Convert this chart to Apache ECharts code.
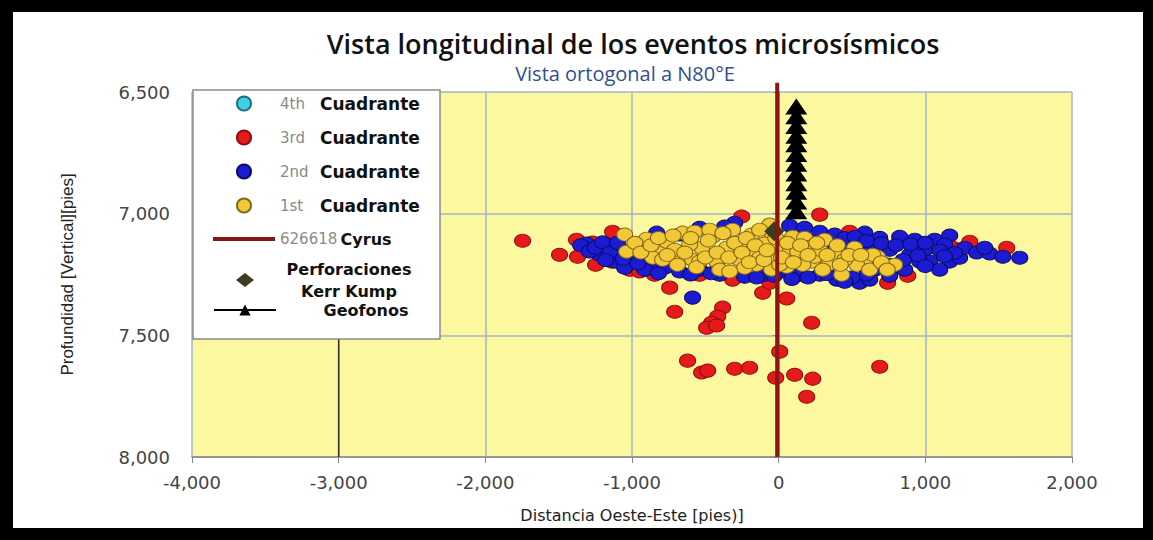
<!DOCTYPE html>
<html><head><meta charset="utf-8">
<script src="https://cdn.jsdelivr.net/npm/echarts@6/dist/echarts.min.js"></script>
<style>
html,body{margin:0;padding:0;background:#000;width:1153px;height:540px;overflow:hidden}
#c{position:absolute;left:13px;top:12px;width:1130px;height:516px;background:#fff}
</style></head>
<body><div id="c"></div>
<script>
// ---- data (x: Distancia Oeste-Este [pies], y: Profundidad [pies]) ----
const xTicks = [-4000, -3000, -2000, -1000, 0, 1000, 2000];
const yTicks = [6500, 7000, 7500, 8000];

const quad4 = []; // 4th Cuadrante: no events visible

const quad3 = [
  [-1746,7111],[-1494,7169],[-1371,7177],[-1378,7107],[-1269,7119],[-1132,7074],[-1248,7210],
  [-1139,7197],[-1016,7230],[-948,7238],[-846,7251],[-743,7304],[-709,7403],[-382,7386],
  [-416,7423],[-457,7448],[-491,7469],[-423,7460],[-539,7251],[-314,7271],[-109,7325],
  [-61,7284],[55,7349],[225,7448],[-621,7604],[-525,7653],[-484,7645],[-300,7637],
  [-198,7633],[7,7567],[-20,7674],[109,7662],[232,7678],[191,7752],[689,7629],
  [-252,7012],[280,7004],[484,7074],[743,7284],[880,7255],[1187,7140],[1303,7115],
  [1555,7140],[1234,7148]
];

const quad2 = [
  [-1309,7123],[-1173,7127],[-1221,7169],[-1084,7148],[-1118,7197],[-982,7181],[-948,7127],
  [-880,7210],[-832,7078],[-777,7222],[-675,7086],[-539,7058],[-300,7037],[-368,7053],
  [-587,7345],[-675,7238],[-539,7230],[-402,7251],[-232,7259],[-95,7251],[-1050,7222],
  [-914,7230],[75,7049],[177,7058],[280,7074],[382,7086],[587,7078],[689,7099],[825,7095],
  [928,7107],[1064,7107],[1166,7090],[1132,7127],[996,7148],[893,7169],[1030,7197],
  [1166,7197],[1098,7230],[1234,7181],[757,7148],[621,7127],[484,7127],[348,7140],
  [757,7210],[655,7230],[552,7284],[396,7271],[280,7251],[143,7251],[41,7238],[859,7230],
  [962,7197],[1269,7140],[1350,7160],[1439,7164],[1528,7177],[1644,7181],[1405,7140],
  [621,7271],[757,7255],
  [-1350,7130],[-1290,7155],[-1250,7140],[-1200,7118],[-1150,7160],[-1100,7120],[-1010,7150],
  [-1060,7185],[-960,7205],[-1180,7190],[450,7100],[520,7095],[600,7112],[700,7122],
  [800,7130],[900,7126],[1000,7120],[1100,7152],[1200,7162],[950,7172],[850,7190],
  [700,7200],[600,7250],[500,7262],[450,7280],[-820,7245],[-600,7250],[-460,7245],
  [-150,7262],[-30,7255],[90,7268],[200,7262],[330,7248],[1000,7215],[1130,7175]
];

const quad1 = [
  [-1050,7086],[-1037,7156],[-900,7103],[-812,7156],[-859,7181],[-655,7078],[-525,7140],
  [-450,7095],[-355,7140],[-266,7189],[-177,7148],[-150,7210],[123,7160],[191,7119],
  [232,7197],[-764,7115],[-675,7181],[-587,7189],[-791,7189],[-423,7197],[-314,7066],
  [-41,7095],[-539,7197],[-402,7230],[-266,7123],[-95,7123],[-130,7181],[-607,7127],
  [-709,7148],[-48,7230],[-232,7222],[-61,7045],[-184,7086],[-573,7074],[-334,7238],
  [95,7095],[177,7099],[41,7156],[130,7156],[211,7136],[246,7177],[55,7218],[164,7210],
  [348,7206],[430,7251],[518,7140],[587,7201],[675,7177],[532,7210],[791,7210],[641,7169],
  [280,7148],[382,7169],[450,7189],[314,7107],[-27,7148],[7,7210],[-470,7066],[-130,7066],
  [-980,7120],[-940,7160],[-870,7130],[-820,7100],[-760,7170],[-720,7090],[-690,7210],
  [-640,7160],[-600,7100],[-560,7220],[-500,7180],[-480,7110],[-420,7160],[-380,7080],
  [-340,7180],[-300,7120],[-250,7160],[-220,7100],[-200,7200],[-160,7130],[-100,7190],
  [-80,7150],[-20,7100],[20,7180],[60,7120],[100,7200],[150,7130],[200,7170],[260,7120],
  [300,7230],[330,7170],[400,7130],[420,7210],[480,7170],[560,7170],[620,7230],[700,7200],
  [740,7230]
];

const cyrusWell = [[-10,6462],[-10,8000]];
const kerrKump = [[-30,7072]];
const geofonos = [
  [120,6560],[120,6600],[120,6640],[120,6680],[120,6715],[120,6755],
  [120,6795],[120,6835],[120,6875],[120,6910],[120,6950],[120,6990]
];
const darkGridSegment = [[-3000,7500],[-3000,8000]];

const fmt = v => Number(v).toLocaleString('en-US');

const chart = echarts.init(document.getElementById('c'), null, {renderer:'svg'});
const legendRich = {
  g:{color:'#8a8a8a',fontFamily:'DejaVu Sans',fontSize:15,width:40,lineHeight:18},
  h:{color:'#8a8a8a',fontFamily:'DejaVu Sans',fontSize:15,lineHeight:18},
  b:{color:'#111',fontFamily:'DejaVu Sans',fontWeight:'bold',fontSize:17,lineHeight:18,width:116},
  k:{color:'#111',fontFamily:'DejaVu Sans',fontWeight:'bold',fontSize:16,lineHeight:18},
  c:{color:'#111',fontFamily:'DejaVu Sans',fontWeight:'bold',fontSize:16,width:136,align:'center',lineHeight:22},
  d:{color:'#111',fontFamily:'DejaVu Sans',fontWeight:'bold',fontSize:16,width:170,align:'center',lineHeight:18}
};
const scatterBase = {type:'scatter', symbol:'circle', symbolSize:[16,13]};

chart.setOption({
  animation:false,
  backgroundColor:'#fff',
  title:[
    {text:'Vista longitudinal de los eventos microsísmicos', left:615, top:13, textAlign:'center',
     textStyle:{fontFamily:'Open Sans',fontWeight:600,fontSize:27,color:'#111'}},
    {text:'Vista ortogonal a N80°E', left:607, top:46, textAlign:'center',
     textStyle:{fontFamily:'Open Sans',fontWeight:'normal',fontSize:20,color:'#2f4f8f'}}
  ],
  grid:{left:179, right:71, top:80, bottom:71, show:true, backgroundColor:'#fbf8a0', borderWidth:0},
  legend:[
    {data:['4th Cuadrante','3rd Cuadrante','2nd Cuadrante','1st Cuadrante',
           {name:'626618 Cyrus', icon:'path://M0,0H62V4H0Z'}],
     orient:'vertical', left:180, top:78, itemWidth:62, itemHeight:14, itemGap:17,
     padding:[5,4,92,20], backgroundColor:'#fff', borderColor:'#8a8a8a', borderWidth:1.5,
     selectedMode:false,
     formatter:function(n){const i=n.indexOf(' ');const a=n.slice(0,i),b=n.slice(i+1);
       return n.indexOf('Cyrus')>=0?'{h|'+a+'} {k|'+b+'}':'{g|'+a+'}{b|'+b+'}';},
     textStyle:{rich:legendRich}},
    {data:[{name:'Perforaciones Kerr Kump', icon:'path://M0,7L9,0L18,7L9,14Z'},'Geofonos'],
     orient:'vertical', left:180, top:249, itemWidth:62, itemHeight:14, itemGap:3,
     padding:[0,0,0,20], selectedMode:false, symbolKeepAspect:true,
     formatter:function(n){return n==='Geofonos'?'{d|Geofonos}':'{c|Perforaciones}\n{c|Kerr Kump}';},
     textStyle:{rich:legendRich}}
  ],
  xAxis:{type:'value', min:xTicks[0], max:xTicks[xTicks.length-1], interval:1000,
    name:'Distancia Oeste-Este [pies)]', nameLocation:'middle', nameGap:50,
    nameTextStyle:{fontFamily:'DejaVu Sans',fontSize:16,color:'#222'},
    axisLine:{show:true,lineStyle:{color:'#888',width:1.5}},
    axisTick:{show:true,length:6,lineStyle:{color:'#888'}},
    axisLabel:{formatter:fmt,margin:16,fontFamily:'DejaVu Sans',fontSize:18,color:'#444'},
    splitLine:{show:true,lineStyle:{color:'#a3b6c9',width:1.5}}},
  yAxis:{type:'value', inverse:true, min:yTicks[0], max:yTicks[yTicks.length-1], interval:500,
    name:'Profundidad [Vertical][pies]', nameLocation:'middle', nameGap:116, nameRotate:90,
    nameTextStyle:{fontFamily:'Liberation Sans',fontSize:17,color:'#222'},
    axisLine:{show:true,lineStyle:{color:'#888',width:1.5}},
    axisTick:{show:true,length:6,lineStyle:{color:'#888'}},
    axisLabel:{formatter:fmt,margin:22,fontFamily:'DejaVu Sans',fontSize:18,color:'#444'},
    splitLine:{show:true,lineStyle:{color:'#a3b6c9',width:1.5}}},
  series:[
    {name:'seg', type:'line', data:darkGridSegment, symbol:'none', silent:true,
     lineStyle:{color:'#333',width:1.5}},
    Object.assign({name:'4th Cuadrante', data:quad4,
      itemStyle:{color:'#3fd0e2',borderColor:'#1a6f80',borderWidth:1,opacity:1}}, scatterBase),
    Object.assign({name:'3rd Cuadrante', data:quad3,
      itemStyle:{color:'#e61a1a',borderColor:'#8c0c0c',borderWidth:1,opacity:1}}, scatterBase),
    Object.assign({name:'2nd Cuadrante', data:quad2,
      itemStyle:{color:'#1b1bd2',borderColor:'#0b0b66',borderWidth:1,opacity:1}}, scatterBase),
    Object.assign({name:'1st Cuadrante', data:quad1,
      itemStyle:{color:'#f1c836',borderColor:'#80661c',borderWidth:1,opacity:1}}, scatterBase),
    {name:'626618 Cyrus', type:'line', data:cyrusWell, symbol:'none', clip:false,
     lineStyle:{color:'#8b1414',width:4}, itemStyle:{color:'#8b1414'}},
    {name:'Geofonos', type:'line', data:geofonos, symbol:'triangle', symbolSize:[22,16],
     showSymbol:true, lineStyle:{color:'#000',width:3}, itemStyle:{color:'#000'}},
    {name:'Perforaciones Kerr Kump', type:'scatter', data:kerrKump, symbol:'diamond',
     symbolSize:20, symbolKeepAspect:true, itemStyle:{color:'#3d3c20',opacity:1}}
  ]
});
</script></body></html>
